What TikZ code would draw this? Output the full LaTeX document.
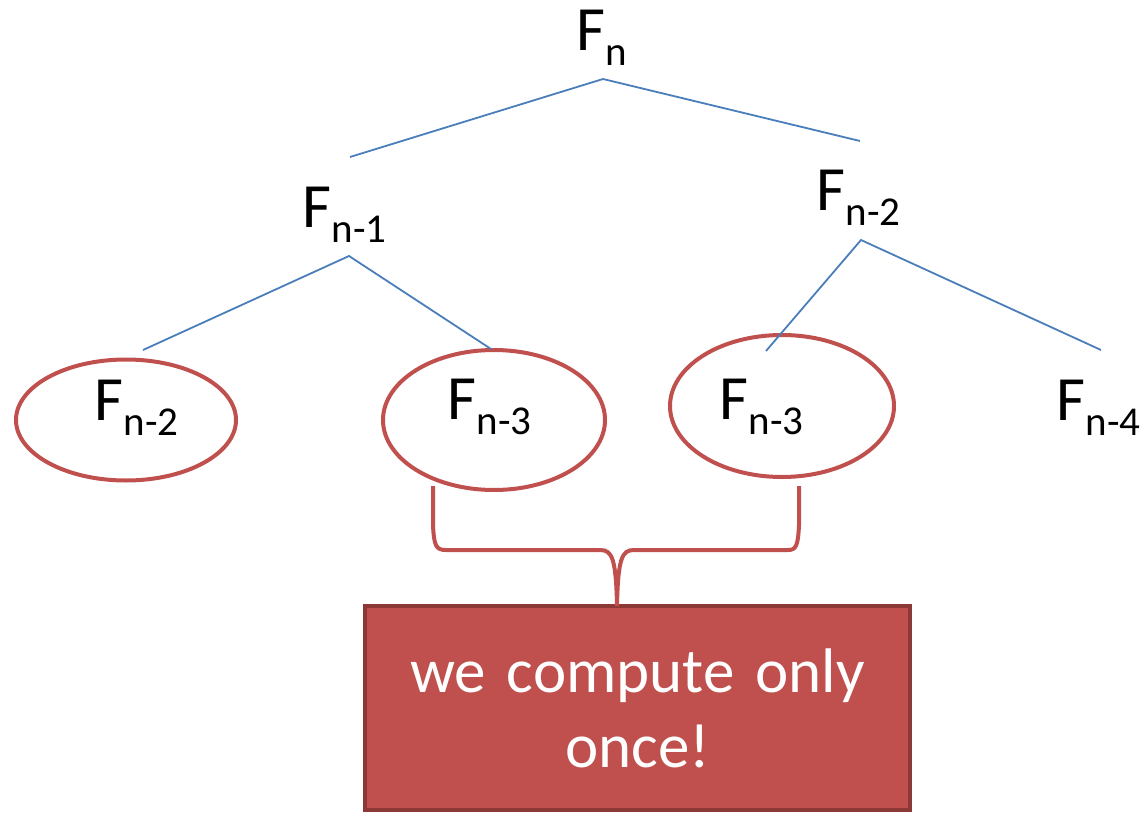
\documentclass[tikz,border=0pt]{standalone}
\usepackage{fontspec}
\setmainfont{Carlito}
\usetikzlibrary{shapes.geometric}
\definecolor{branchblue}{HTML}{4A7EBB}
\definecolor{callred}{HTML}{C0504D}
\definecolor{boxedge}{HTML}{8C3836}
\newcommand{\fib}[1]{F\raisebox{-15pt}{\fontsize{41}{41}\selectfont #1}}
\tikzset{
  branch/.style={draw=branchblue, line width=1.8pt},
  repeated/.style={draw=callred, line width=4pt, ellipse, inner sep=0pt},
  fibterm/.style={anchor=base west, inner sep=0pt, font=\fontsize{63}{75}\selectfont},
}

\begin{document}
\begin{tikzpicture}[x=1pt,y=-1pt]
\useasboundingbox (0,0) rectangle (1147,813);

% circled calls
\node[repeated, minimum width=220pt, minimum height=121pt](ca) at (126,420){};
\node[repeated, minimum width=222pt, minimum height=140pt](cb) at (494,420){};
\node[repeated, minimum width=224pt, minimum height=142pt](cc) at (782,406){};

% terms
\node[fibterm](fn) at (576.5,51){\fib{n}};
\node[fibterm](fa) at (302.5,227){\fib{n-1}};
\node[fibterm](fb) at (816.5,210){\fib{n-2}};
\node[fibterm](fc) at (94.5,420){\fib{n-2}};
\node[fibterm](fd) at (447.5,419){\fib{n-3}};
\node[fibterm](fe) at (719.5,419){\fib{n-3}};
\node[fibterm](ff) at (1056.5,420){\fib{n-4}};

% branches
\coordinate (fn-root) at (603,79);
\coordinate (fa-top) at (350,157);
\coordinate (fb-top) at (860,141);
\coordinate (fa-root) at (349,256);
\coordinate (ca-top) at (143,350);
\coordinate (cb-top) at (491,349);
\coordinate (fb-root) at (861,240);
\coordinate (cc-top) at (766,351);
\coordinate (ff-top) at (1101,350);
\draw[branch](fa-top) -- (fn-root) -- (fb-top);
\draw[branch](ca-top) -- (fa-root) -- (cb-top);
\draw[branch](cc-top) -- (fb-root) -- (ff-top);

% note
\node[fill=callred, draw=boxedge, line width=4pt, minimum width=545pt,
    minimum height=204pt, text width=545pt, align=center, inner sep=0pt,
    text=white, font=\fontsize{63}{75}\selectfont](note) at (637.5,708)
    {we compute only\\once!};

% brace
\coordinate (cb-leg) at (433,486);
\coordinate (cc-leg) at (799,486);
\coordinate (tip) at (617,606);
\draw[draw=callred, line width=4pt](cb-leg) -- (433,525)
    .. controls (434,546) and (436,550) .. (446,550) -- (600,550)
    .. controls (612,550) and (616,558) .. (tip);
\draw[draw=callred, line width=4pt](cc-leg) -- (799,525)
    .. controls (798,546) and (796,550) .. (788,550) -- (634,550)
    .. controls (622,550) and (618,558) .. (tip);

\end{tikzpicture}
\end{document}
